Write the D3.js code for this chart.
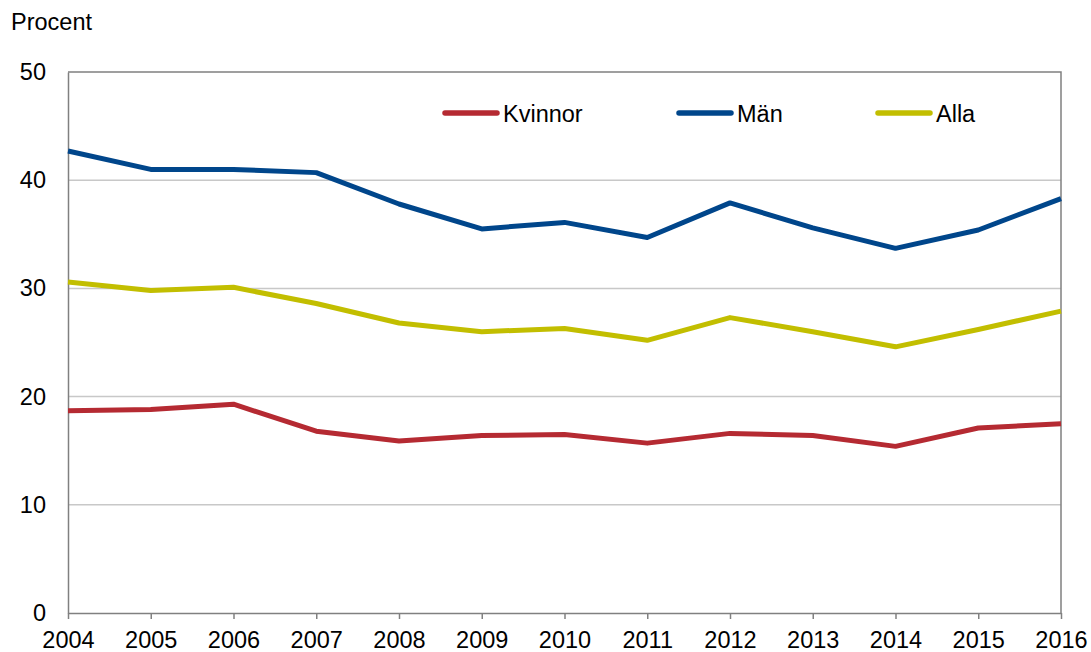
<!DOCTYPE html>
<html>
<head>
<meta charset="utf-8">
<script src="https://cdn.jsdelivr.net/npm/d3@7"></script>
<style>
  html, body { margin: 0; padding: 0; background: #fff; }
  svg { display: block; font-family: "Liberation Sans", Arial, sans-serif; }
</style>
</head>
<body>
<svg id="chart" width="1091" height="652"></svg>
<script>
const years = [2004, 2005, 2006, 2007, 2008, 2009, 2010, 2011, 2012, 2013, 2014, 2015, 2016];
const kvinnor = [18.7, 18.8, 19.3, 16.8, 15.9, 16.4, 16.5, 15.7, 16.6, 16.4, 15.4, 17.1, 17.5];
const man = [42.7, 41.0, 41.0, 40.7, 37.8, 35.5, 36.1, 34.7, 37.9, 35.6, 33.7, 35.4, 38.3];
const alla = [30.6, 29.8, 30.1, 28.6, 26.8, 26.0, 26.3, 25.2, 27.3, 26.0, 24.6, 26.2, 27.9];
const seriesNames = ["Kvinnor", "Män", "Alla"];
const seriesColors = ["#B52A32", "#00468B", "#C2BE00"];
const yTicks = [0, 10, 20, 30, 40, 50];
const yLabel = "Procent";

const FS = 23.5;
const series = [kvinnor, man, alla];
const svg = d3.select("#chart");
const m = { left: 68, right: 1061, top: 72, bottom: 613 };

const x = d3.scaleLinear().domain([years[0], years[years.length - 1]]).range([m.left, m.right]);
const y = d3.scaleLinear().domain([0, 50]).range([m.bottom, m.top]);

// gridlines
svg.append("g").selectAll("line").data(yTicks.filter(t => t > 0 && t < 50)).join("line")
  .attr("x1", m.left).attr("x2", m.right)
  .attr("y1", d => y(d)).attr("y2", d => y(d))
  .attr("stroke", "#C8C8C8").attr("stroke-width", 1.5);

// plot border (top, right)
svg.append("path")
  .attr("d", `M${m.left},${m.top}H${m.right}V${m.bottom}`)
  .attr("fill", "none").attr("stroke", "#808080").attr("stroke-width", 1.5);

// y axis
const yAxis = svg.append("g").attr("transform", `translate(${m.left},0)`)
  .call(d3.axisLeft(y).tickValues(yTicks).tickSize(0).tickPadding(22));
yAxis.select(".domain").attr("stroke", "#808080").attr("stroke-width", 1.5);
yAxis.selectAll("text").attr("font-size", FS).attr("fill", "#000")
  .attr("font-family", "'Liberation Sans', Arial, sans-serif");

// x axis
const xAxis = svg.append("g").attr("transform", `translate(0,${m.bottom})`)
  .call(d3.axisBottom(x).tickValues(years).tickFormat(d3.format("d")).tickSize(6).tickSizeOuter(0).tickPadding(12));
xAxis.select(".domain").attr("stroke", "#808080").attr("stroke-width", 1.5);
xAxis.selectAll(".tick line").attr("stroke", "#808080").attr("stroke-width", 1.5);
xAxis.selectAll("text").attr("font-size", FS).attr("fill", "#000")
  .attr("font-family", "'Liberation Sans', Arial, sans-serif");

// y label
svg.append("text").attr("x", 11).attr("y", 30).attr("font-size", FS).attr("fill", "#000").text(yLabel);

// lines
const line = d3.line().x((d, i) => x(years[i])).y(d => y(d));
series.forEach((s, i) => {
  svg.append("path").datum(s)
    .attr("d", line)
    .attr("fill", "none")
    .attr("stroke", seriesColors[i])
    .attr("stroke-width", 5)
    .attr("stroke-linejoin", "round");
});

// legend
const legendX = [445, 679, 878];
const legendY = 113;
seriesNames.forEach((name, i) => {
  const g = svg.append("g");
  g.append("line")
    .attr("x1", legendX[i]).attr("x2", legendX[i] + 52)
    .attr("y1", legendY).attr("y2", legendY)
    .attr("stroke", seriesColors[i]).attr("stroke-width", 5.5).attr("stroke-linecap", "round");
  g.append("text")
    .attr("x", legendX[i] + 58).attr("y", legendY + 9)
    .attr("font-size", FS).attr("fill", "#000").text(name);
});
</script>
</body>
</html>
